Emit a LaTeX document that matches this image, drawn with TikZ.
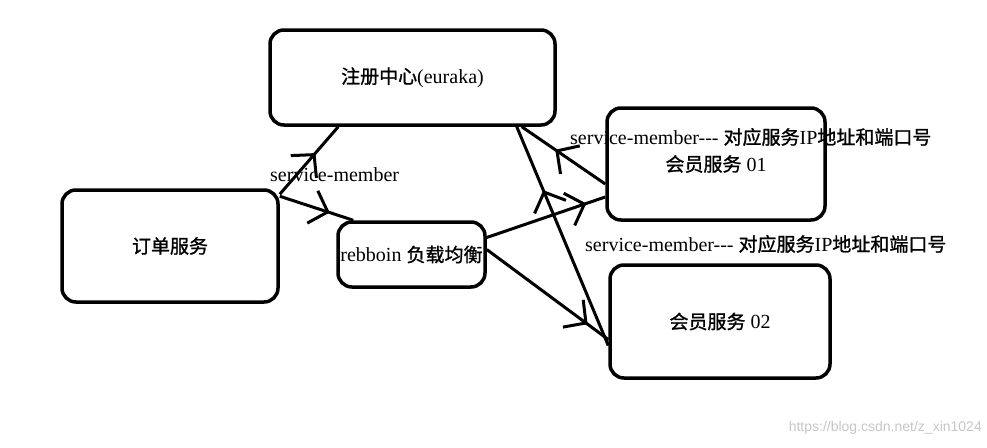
\documentclass[tikz,border=0pt]{standalone}
\usepackage{fontspec}
\setmainfont{Liberation Serif}
\newfontfamily\cjk[Scale=0.95, FakeBold=1.2]{Noto Sans CJK SC}
\newfontfamily\wmfont{Liberation Sans}
\usetikzlibrary{arrows.meta, decorations.markings, calc}

\begin{document}
\begin{tikzpicture}[x=1pt, y=-1pt,
  svc/.style={rectangle, draw=black, line width=3.5pt, rounded corners=14pt,
    inner sep=0pt, text centered, font=\fontsize{20}{24}\selectfont},
  link/.style={line width=3pt},
  midtip/.style={postaction={decorate}, decoration={markings,
    mark=at position #1 with {\arrow{Straight Barb[length=16pt, width=34pt, line width=3pt]}}}},
  tag/.style={anchor=west, inner sep=0pt, font=\fontsize{20}{24}\selectfont}
]
\useasboundingbox (0,0) rectangle (987,447);

% 服务节点
\node (reg) [svc, minimum width=285, minimum height=95] at (412.5,77.5) {{\cjk 注册中心}(euraka)};
\node (order) [svc, minimum width=216, minimum height=112] at (170,246) {\cjk 订单服务};
\node (ribbon) [svc, minimum width=147, minimum height=65] at (411.5,254.5) {rebboin {\cjk 负载均衡}};
\node (m01) [svc, minimum width=218, minimum height=112] at (716,164) {{\cjk 会员服务} 01};
\node (m02) [svc, minimum width=220, minimum height=113] at (720,321.5) {{\cjk 会员服务} 02};

% 调用关系
\draw [link, midtip=0.61] ([yshift=-6pt]order.north east) -- ([xshift=70pt]reg.south west);
\draw [link, midtip=0.68] ([yshift=-8pt]order.north east) -- ([xshift=17pt]ribbon.north west);
\draw [link, midtip=0.84] ([yshift=17pt]ribbon.east) -- ([yshift=-33pt]m01.west);
\draw [link, midtip=0.83] ([yshift=5pt]ribbon.east) -- ([yshift=-18pt]m02.west);

% 注册
\draw [link, midtip=0.6] ([yshift=-20pt]m01.west) -- ([xshift=-35pt]reg.south east);
\draw [link, midtip=0.71] ([yshift=-24pt]m02.west) -- ([xshift=-40pt]reg.south east);

% 标签
\node (tagorder) [tag] at (270,175) {service-member};
\node (tagm01) [tag] at (570,137) {service-member{-}{-}{-} {\cjk 对应服务}IP{\cjk 地址和端口号}};
\node (tagm02) [tag] at (585,244) {service-member{-}{-}{-} {\cjk 对应服务}IP{\cjk 地址和端口号}};
\node (wm) [anchor=east, inner sep=0pt, text=gray!45, font=\wmfont\fontsize{14}{16}\selectfont]
  at (982,428) {https://blog.csdn.net/z\_xin1024};

\end{tikzpicture}
\end{document}
